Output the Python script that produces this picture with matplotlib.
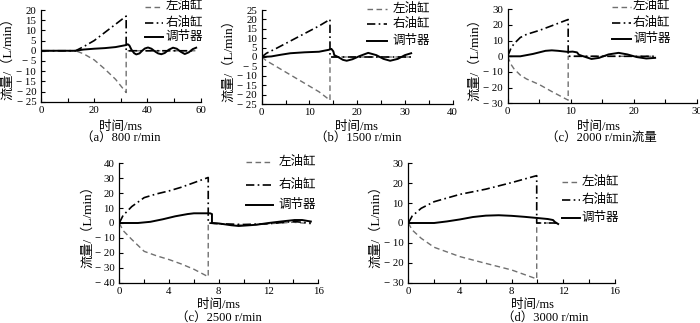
import matplotlib
matplotlib.use('Agg')
import matplotlib.pyplot as plt
from matplotlib.ticker import MultipleLocator, FuncFormatter
from matplotlib.lines import Line2D

plt.rcParams['font.family'] = ['Liberation Serif', 'Noto Sans CJK SC']
plt.rcParams['axes.unicode_minus'] = True

# ---- data ----
labels = ['左油缸', '右油缸', '调节器']

# (a) 800 r/min
a_t_cyl = [0, 13, 16, 20, 24, 28, 32, 32, 58]
a_left = [0, 0, -1.5, -4.5, -9, -14, -20.5, 0, 0]
a_right = [0, 0, 2, 5, 9, 13, 17, 0, 0]
a_t_reg = [0, 13, 16, 20, 24, 28, 30, 32, 32.6, 33.2, 34, 35, 35.8, 37, 38, 39, 40.2,
           41.5, 43, 44, 45.2, 46.5, 48, 49.6, 51, 52.5, 54, 55.5, 57, 58.3]
a_reg = [0, 0, 0.6, 1.0, 1.3, 1.8, 2.3, 2.8, 3.2, 2.6, 0.5, -1.2, -1.8, -1.3, 0, 1.1, 1.6,
         1.0, -0.5, -1.3, -1.7, -1.1, 0.5, 1.5, 1.0, -0.5, -1.6, -0.8, 0.8, 1.5]

# (b) 1500 r/min
b_t_cyl = [0, 1, 3, 6, 9, 12, 14.3, 14.3, 31.3]
b_left = [0, -2, -5, -9.5, -14, -18.5, -23, 0, 0]
b_right = [0, 2, 4.5, 8.5, 12.5, 16.5, 20, 0, 0]
b_t_reg = [0, 2, 4, 6, 9, 12, 14, 14.6, 15.0, 15.2, 16, 17, 17.8, 19, 20.5, 22.3, 24,
           25.5, 26.9, 28.5, 30, 31.3]
b_reg = [0, 0.3, 1.2, 2, 2.5, 2.8, 3.8, 4.3, 3, 1, 0, -1.5, -2, -1.2, 0.5, 2.2, 1,
         -1, -2, -1, 1, 2]

# (c) 2000 r/min
c_t_cyl = [0, 0.5, 1, 2, 3, 5, 7, 9.6, 9.6, 23.4]
c_left = [0, -5, -8, -12, -14.5, -18, -22.5, -28, 0, 0]
c_right = [0, 5, 8, 12, 14, 16.5, 19.5, 23.5, 0, 0]
c_t_reg = [0, 2, 4, 6, 7, 8, 9.6, 10.3, 11, 11.3, 12, 13.3, 14.5, 16, 17.6, 19, 20.5,
           22, 23.4]
c_reg = [0, 0, 1.5, 3.5, 3.8, 3.5, 2.8, 3.0, 2.5, 1.0, 0, -1.7, -1, 1.2, 2.2, 1.2,
         -0.5, -1.4, -1]

# (c) 2500 r/min
d_t_cyl = [0, 0.3, 1, 2, 3, 4, 5, 6, 7.15, 7.15, 8, 10, 12, 14, 15.4]
d_left = [0, -5, -11, -19, -22, -24.5, -27.5, -31, -36, 0, -0.5, -1.5, -0.5, 0.5, -0.5]
d_right = [0, 5, 11, 17, 19.5, 21.5, 24, 27, 30.5, 0, -0.5, -1, -0.5, 1, 0]
d_t_reg = [0, 1.5, 2.5, 3.5, 4.5, 5.5, 6, 7.3, 7.45, 7.45, 8, 9, 9.6, 11, 12, 13, 14.1,
           14.7, 15.4]
d_reg = [0, 0, 0.8, 2.5, 4.5, 6, 6.5, 6.5, 6, 0, -0.3, -1.5, -2, -1.2, 0, 1, 2, 2, 1]

# (d) 3000 r/min
e_t_cyl = [0, 0.3, 1, 2, 4, 6, 8, 9.94, 9.94, 11.5]
e_left = [0, -3.5, -7.7, -12.2, -16.9, -20.3, -23.6, -28.1, 0, 0]
e_right = [0, 3.5, 7.4, 10.7, 14.4, 17, 20.3, 23.8, 0, 0]
e_t_reg = [0, 2, 3, 4, 5, 6, 7, 8, 9, 10, 10.8, 11.2, 11.35, 11.6]
e_reg = [0, 0, 0.8, 1.8, 3, 3.7, 3.9, 3.6, 3.1, 2.5, 2.0, 1.5, 0.5, -0.5]

# ---- layout (pixels of the 700x323 picture) ----
W, H = 700, 323


def rect(x0, y0, x1, y1):
    return [x0 / W, 1 - y1 / H, (x1 - x0) / W, (y1 - y0) / H]


def fx(x):
    return x / W


def fy(y):
    return 1 - y / H


def fmt(v, pos):
    if abs(v) < 1e-9:
        return '0'
    if v < 0:
        return '\u2212 %g' % abs(v)
    return '%g' % v


# ylx = right edge (in px) of the rotated y label
panels = [
    dict(box=(41, 10, 200.7, 101.7), xlim=(0, 60), xmaj=20, xmin=10, ylim=(-25, 20), ymaj=5,
         tc=a_t_cyl, left=a_left, right=a_right, tr=a_t_reg, reg=a_reg,
         ylx=14, xl=(121, 127), cap=(121, 137.5, '（a）800 r/min'),
         leg=(145, 163, 165.7, [6.5, 22.7, 37.3])),
    dict(box=(261.7, 10, 452.7, 104), xlim=(0, 40), xmaj=10, xmin=5, ylim=(-25, 25), ymaj=5,
         tc=b_t_cyl, left=b_left, right=b_right, tr=b_t_reg, reg=b_reg,
         ylx=235.5, xl=(357, 127), cap=(358, 137.5, '（b）1500 r/min'),
         leg=(366.7, 386.7, 392.7, [9, 24.3, 40.7])),
    dict(box=(507.7, 9.3, 696.7, 103.3), xlim=(0, 30), xmaj=10, xmin=5, ylim=(-30, 30), ymaj=10,
         tc=c_t_cyl, left=c_left, right=c_right, tr=c_t_reg, reg=c_reg,
         ylx=481.5, xl=(599, 127), cap=(601, 137.5, '（c）2000 r/min流量'),
         leg=(611.7, 631, 633, [6.5, 22.7, 39])),
    dict(box=(119.3, 163.3, 318.3, 282.7), xlim=(0, 16), xmaj=4, xmin=2, ylim=(-40, 40), ymaj=10,
         tc=d_t_cyl, left=d_left, right=d_right, tr=d_t_reg, reg=d_reg,
         ylx=94.5, xl=(219, 305), cap=(219, 318, '（c）2500 r/min'),
         leg=(245.7, 273.3, 278.3, [162.3, 185, 205])),
    dict(box=(408.3, 163.3, 615, 282.7), xlim=(0, 16), xmaj=4, xmin=2, ylim=(-30, 30), ymaj=10,
         tc=e_t_cyl, left=e_left, right=e_right, tr=e_t_reg, reg=e_reg,
         ylx=382.5, xl=(532, 305), cap=(545, 318, '（d）3000 r/min'),
         leg=(561.7, 580, 581.7, [181.7, 200, 218.3])),
]

fs = 9
styles = [dict(color='#707070', lw=1.0, ls=(0, (4, 2.5))),
          dict(color='black', lw=1.2, ls=(0, (5, 2, 1, 2))),
          dict(color='black', lw=1.4, ls='-')]

fig = plt.figure(figsize=(7, 3.23), dpi=100)

for p in panels:
    x0, y0, x1, y1 = p['box']
    ax = fig.add_axes(rect(x0, y0, x1, y1))
    ax.plot(p['tc'], p['left'], **styles[0])
    ax.plot(p['tc'], p['right'], **styles[1])
    ax.plot(p['tr'], p['reg'], **styles[2])
    ax.set_xlim(*p['xlim'])
    ax.set_ylim(*p['ylim'])
    ax.xaxis.set_major_locator(MultipleLocator(p['xmaj']))
    ax.xaxis.set_minor_locator(MultipleLocator(p['xmin']))
    ax.yaxis.set_major_locator(MultipleLocator(p['ymaj']))
    ax.yaxis.set_major_formatter(FuncFormatter(fmt))
    ax.tick_params(direction='in', labelsize=7.8, length=3, width=0.8)
    ax.tick_params(axis='x', pad=3)
    ax.tick_params(axis='y', pad=3.5)
    ax.tick_params(which='minor', direction='in', length=3, width=0.8)
    for s in ['top', 'right']:
        ax.spines[s].set_visible(False)
    for s in ['left', 'bottom']:
        ax.spines[s].set_linewidth(0.9)
    ax.set_ylabel('流量/（L/min）', fontsize=9.5)
    ax.yaxis.set_label_coords((p['ylx'] - x0) / (x1 - x0), 0.5)

    fig.text(fx(p['xl'][0]), fy(p['xl'][1]), '时间/ms', fontsize=fs,
             ha='center', va='center')
    cx, cy, ct = p['cap']
    fig.text(fx(cx), fy(cy), ct, fontsize=fs, ha='center', va='center')

    # legend drawn by hand to sit where the reference has it
    hx0, hx1, tx, rows = p['leg']
    for st, lab, ry in zip(styles, labels, rows):
        fig.add_artist(Line2D([fx(hx0), fx(hx1)], [fy(ry), fy(ry)],
                              transform=fig.transFigure, **st))
        fig.text(fx(tx), fy(ry), lab, fontsize=fs, ha='left', va='center')

fig.savefig('out.png', dpi=100)
